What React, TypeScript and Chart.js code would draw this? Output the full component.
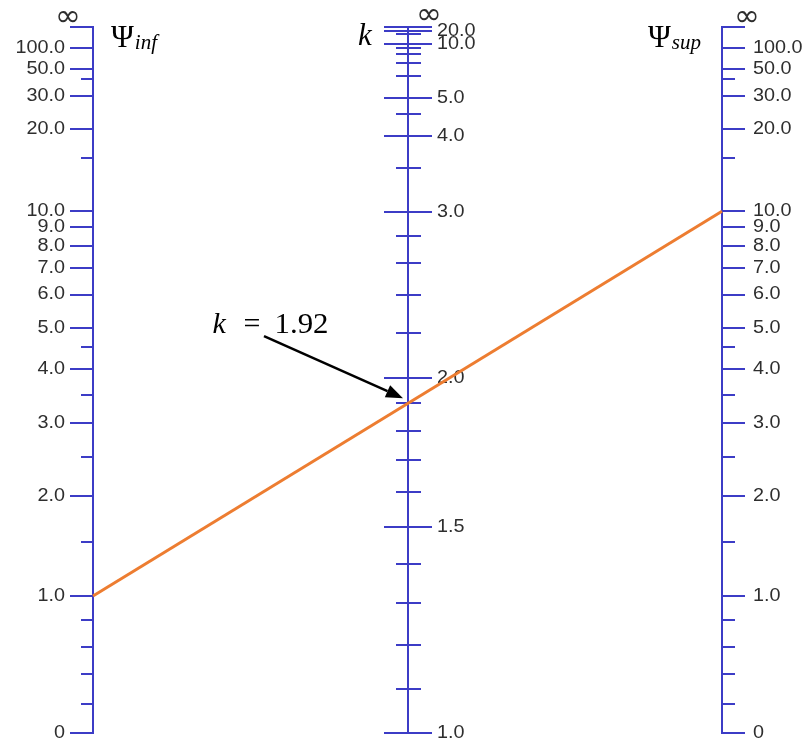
import React, { useEffect, useRef } from "react";
import { Chart, registerables, LinearScale } from "chart.js";

Chart.register(...registerables);

// ---------------- data ----------------
const psiMajorValues = [Infinity, 100, 50, 30, 20, 10, 9, 8, 7, 6, 5, 4, 3, 2, 1, 0];
const psiMajorLabels = ["", "100.0", "50.0", "30.0", "20.0", "10.0", "9.0", "8.0", "7.0", "6.0", "5.0", "4.0", "3.0", "2.0", "1.0", "0"];
const psiMinorValues = [40, 15, 4.5, 3.5, 2.5, 1.5, 0.8, 0.6, 0.4, 0.2];
const kMajorValues = [Infinity, 20, 10, 5, 4, 3, 2, 1.5, 1];
const kMajorLabels = ["", "20.0", "10.0", "5.0", "4.0", "3.0", "2.0", "1.5", "1.0"];
const kMinorValues = [15, 9, 8, 7, 6, 4.5, 3.5, 2.8, 2.6, 2.4, 2.2, 1.9, 1.8, 1.7, 1.6, 1.4, 1.3, 1.2, 1.1];
const axisSubscripts = ["inf", "sup"];
const psiInf = 1.0;
const psiSup = 10.0;
const kResult = 1.92;

// ---------------- scale definitions ----------------
const PSI_EXPONENT = 1.07;
const PSI_CONSTANT = 4.15;

function psiFraction(g: number): number {
  if (!(g > 0)) return 0;
  if (!isFinite(g)) return 1;
  const p = Math.pow(g, PSI_EXPONENT);
  return p / (p + PSI_CONSTANT);
}
function psiFromFraction(f: number): number {
  if (f <= 0) return 0;
  if (f >= 1) return Infinity;
  return Math.pow((PSI_CONSTANT * f) / (1 - f), 1 / PSI_EXPONENT);
}
// symmetric sway-frame relation: (G^2 x^2 - 36) / (12 G) = x / tan(x), x = PI / k
function psiForK(k: number): number {
  if (!(k > 1)) return 0;
  if (!isFinite(k)) return Infinity;
  const x = Math.PI / k;
  const r = x / Math.tan(x);
  return 6 / (Math.sqrt(r * r + x * x) - r);
}
function kForPsi(g: number): number {
  if (!(g > 0)) return 1;
  if (!isFinite(g)) return Infinity;
  let lo = 1, hi = 1e6;
  for (let i = 0; i < 80; i++) {
    const mid = Math.sqrt(lo * hi);
    if (psiForK(mid) < g) lo = mid; else hi = mid;
  }
  return (lo + hi) / 2;
}

class PsiScale extends LinearScale {
  static id = "psiScale";
  static defaults = LinearScale.defaults;
  getPixelForValue(value: number) {
    return this.getPixelForDecimal(psiFraction(value));
  }
  getValueForPixel(pixel: number) {
    return psiFromFraction(this.getDecimalForPixel(pixel));
  }
}
class KScale extends LinearScale {
  static id = "kScale";
  static defaults = LinearScale.defaults;
  getPixelForValue(value: number) {
    return this.getPixelForDecimal(psiFraction(psiForK(value)));
  }
  getValueForPixel(pixel: number) {
    return kForPsi(psiFromFraction(this.getDecimalForPixel(pixel)));
  }
}
Chart.register(PsiScale as any, KScale as any);

// ---------------- styles ----------------
const AXIS_COLOR = "#3c3cc6";
const TEXT_COLOR = "#2e2e2e";
const LINE_COLOR = "#ed7d31";
const TICK_FONT = '18px "Liberation Sans", Arial, sans-serif';
const TICK_STRETCH = 1.1;
const INF_FONT = '31px "DejaVu Sans", sans-serif';
const MATH_FONT = '"Liberation Serif", "DejaVu Serif", serif';

function drawStretched(ctx: CanvasRenderingContext2D, text: string, x: number, y: number, align: CanvasTextAlign) {
  ctx.save();
  ctx.translate(x, y);
  ctx.scale(TICK_STRETCH, 1);
  ctx.textAlign = align;
  ctx.textBaseline = "middle";
  ctx.fillText(text, 0, 0);
  ctx.restore();
}

function hLine(ctx: CanvasRenderingContext2D, x1: number, x2: number, y: number) {
  ctx.beginPath();
  ctx.moveTo(x1, y);
  ctx.lineTo(x2, y);
  ctx.stroke();
}

const nomoPlugin = {
  id: "nomo",
  beforeDatasetsDraw(chart: any) {
    const ctx: CanvasRenderingContext2D = chart.ctx;
    const xs = chart.scales.x;
    const ps = chart.scales.y;
    const ks = chart.scales.kq;
    const xL = Math.round(xs.getPixelForValue(0));
    const xM = Math.round(xs.getPixelForValue(0.5));
    const xR = Math.round(xs.getPixelForValue(1));
    ctx.save();
    ctx.strokeStyle = AXIS_COLOR;
    ctx.lineWidth = 2;
    ctx.lineCap = "square";

    // vertical axis lines
    const psiTop = Math.round(ps.getPixelForValue(Infinity));
    const psiBot = Math.round(ps.getPixelForValue(0));
    const kTop = Math.round(ks.getPixelForValue(Infinity));
    const kBot = Math.round(ks.getPixelForValue(1));
    [xL, xR].forEach((x) => {
      ctx.beginPath();
      ctx.moveTo(x, psiTop);
      ctx.lineTo(x, psiBot);
      ctx.stroke();
    });
    ctx.beginPath();
    ctx.moveTo(xM, kTop);
    ctx.lineTo(xM, kBot);
    ctx.stroke();

    ctx.lineCap = "butt";
    // psi ticks
    psiMajorValues.forEach((v) => {
      const y = Math.round(ps.getPixelForValue(v));
      hLine(ctx, xL - 23, xL, y);
      hLine(ctx, xR, xR + 23, y);
    });
    psiMinorValues.forEach((v) => {
      const y = Math.round(ps.getPixelForValue(v));
      hLine(ctx, xL - 12, xL, y);
      hLine(ctx, xR, xR + 13, y);
    });
    // k ticks
    kMajorValues.forEach((v) => {
      const y = Math.round(ks.getPixelForValue(v));
      hLine(ctx, xM - 24, xM + 24, y);
    });
    kMinorValues.forEach((v) => {
      const y = Math.round(ks.getPixelForValue(v));
      hLine(ctx, xM - 12, xM + 13, y);
    });

    // tick labels
    ctx.fillStyle = TEXT_COLOR;
    ctx.font = TICK_FONT;
    psiMajorValues.forEach((v, i) => {
      const label = psiMajorLabels[i];
      if (!label) return;
      const y = ps.getPixelForValue(v);
      drawStretched(ctx, label, xL - 28, y, "right");
      drawStretched(ctx, label, xR + 31, y, "left");
    });
    kMajorValues.forEach((v, i) => {
      const label = kMajorLabels[i];
      if (!label) return;
      const y = ks.getPixelForValue(v);
      drawStretched(ctx, label, xM + 29, y, "left");
    });

    // infinity marks
    ctx.font = INF_FONT;
    ctx.textAlign = "center";
    ctx.textBaseline = "middle";
    ctx.fillText("\u221E", xL - 25, psiTop - 9);
    ctx.fillText("\u221E", xR + 25, psiTop - 9);
    ctx.fillText("\u221E", xM + 21, kTop - 11);

    // axis titles
    ctx.fillStyle = "#000000";
    ctx.textAlign = "left";
    ctx.textBaseline = "alphabetic";
    const drawPsi = (x: number, sub: string) => {
      ctx.font = "31px " + MATH_FONT;
      ctx.fillText("\u03A8", x, psiTop + 20);
      const w = ctx.measureText("\u03A8").width;
      ctx.font = "italic 21px " + MATH_FONT;
      ctx.fillText(sub, x + w + 1, psiTop + 22);
    };
    drawPsi(xL + 18, axisSubscripts[0]);
    drawPsi(xR - 74, axisSubscripts[1]);
    ctx.font = "italic 31px " + MATH_FONT;
    ctx.fillText("k", xM - 50, kTop + 18);
    ctx.restore();
  },
  afterDatasetsDraw(chart: any) {
    const ctx: CanvasRenderingContext2D = chart.ctx;
    const xs = chart.scales.x;
    const ks = chart.scales.kq;
    const xM = xs.getPixelForValue(0.5);
    const tipX = xM - 4.5;
    const tipY = ks.getPixelForValue(kResult);
    const sx = tipX - 139;
    const sy = tipY - 62;
    const ang = Math.atan2(tipY - sy, tipX - sx);
    const headLen = 17, headW = 6.5;
    const bx = tipX - headLen * Math.cos(ang);
    const by = tipY - headLen * Math.sin(ang);
    ctx.save();
    ctx.strokeStyle = "#000000";
    ctx.fillStyle = "#000000";
    ctx.lineWidth = 2.5;
    ctx.beginPath();
    ctx.moveTo(sx, sy);
    ctx.lineTo(bx, by);
    ctx.stroke();
    ctx.beginPath();
    ctx.moveTo(tipX, tipY);
    ctx.lineTo(bx - headW * Math.sin(ang), by + headW * Math.cos(ang));
    ctx.lineTo(bx + headW * Math.sin(ang), by - headW * Math.cos(ang));
    ctx.closePath();
    ctx.fill();

    // label "k = 1.92"
    const base = tipY - 65.5;
    ctx.textBaseline = "alphabetic";
    ctx.textAlign = "left";
    ctx.font = "italic 30px " + MATH_FONT;
    ctx.fillText("k", tipX - 190.5, base);
    ctx.font = "30px " + MATH_FONT;
    ctx.textAlign = "center";
    ctx.fillText("=", tipX - 151, base);
    ctx.textAlign = "left";
    const txt = kResult.toFixed(2);
    const w = ctx.measureText(txt).width;
    ctx.save();
    ctx.translate(tipX - 128.5, base);
    ctx.scale(54 / w, 1);
    ctx.fillText(txt, 0, 0);
    ctx.restore();
    ctx.restore();
  },
};

export default function App() {
  const canvasRef = useRef<HTMLCanvasElement | null>(null);
  useEffect(() => {
    document.body.style.margin = "0";
    const canvas = canvasRef.current;
    if (!canvas) return;
    const chart = new Chart(canvas, {
      type: "scatter",
      data: {
        datasets: [
          {
            data: [
              { x: 0, y: psiInf },
              { x: 1, y: psiSup },
            ],
            showLine: true,
            borderColor: LINE_COLOR,
            backgroundColor: LINE_COLOR,
            borderWidth: 3,
            pointRadius: 0,
            clip: false,
            xAxisID: "x",
            yAxisID: "y",
          } as any,
        ],
      },
      options: {
        animation: false,
        responsive: false,
        devicePixelRatio: 1,
        events: [],
        layout: { padding: { left: 93, right: 84, top: 27, bottom: 7 } },
        scales: {
          x: { type: "linear", min: 0, max: 1, display: false },
          y: { type: "psiScale" as any, axis: "y", position: "left", min: 0, max: 100, display: false },
          kq: { type: "kScale" as any, axis: "y", position: "left", min: 1, max: 20, display: false },
        } as any,
        plugins: {
          legend: { display: false },
          tooltip: { enabled: false },
        },
      },
      plugins: [nomoPlugin as any],
    });
    return () => chart.destroy();
  }, []);
  return (
    <div style={{ position: "absolute", left: 0, top: 0, width: 806, height: 740, background: "#ffffff" }}>
      <canvas ref={canvasRef} width={806} height={740} style={{ width: 806, height: 740, display: "block" }} />
    </div>
  );
}
